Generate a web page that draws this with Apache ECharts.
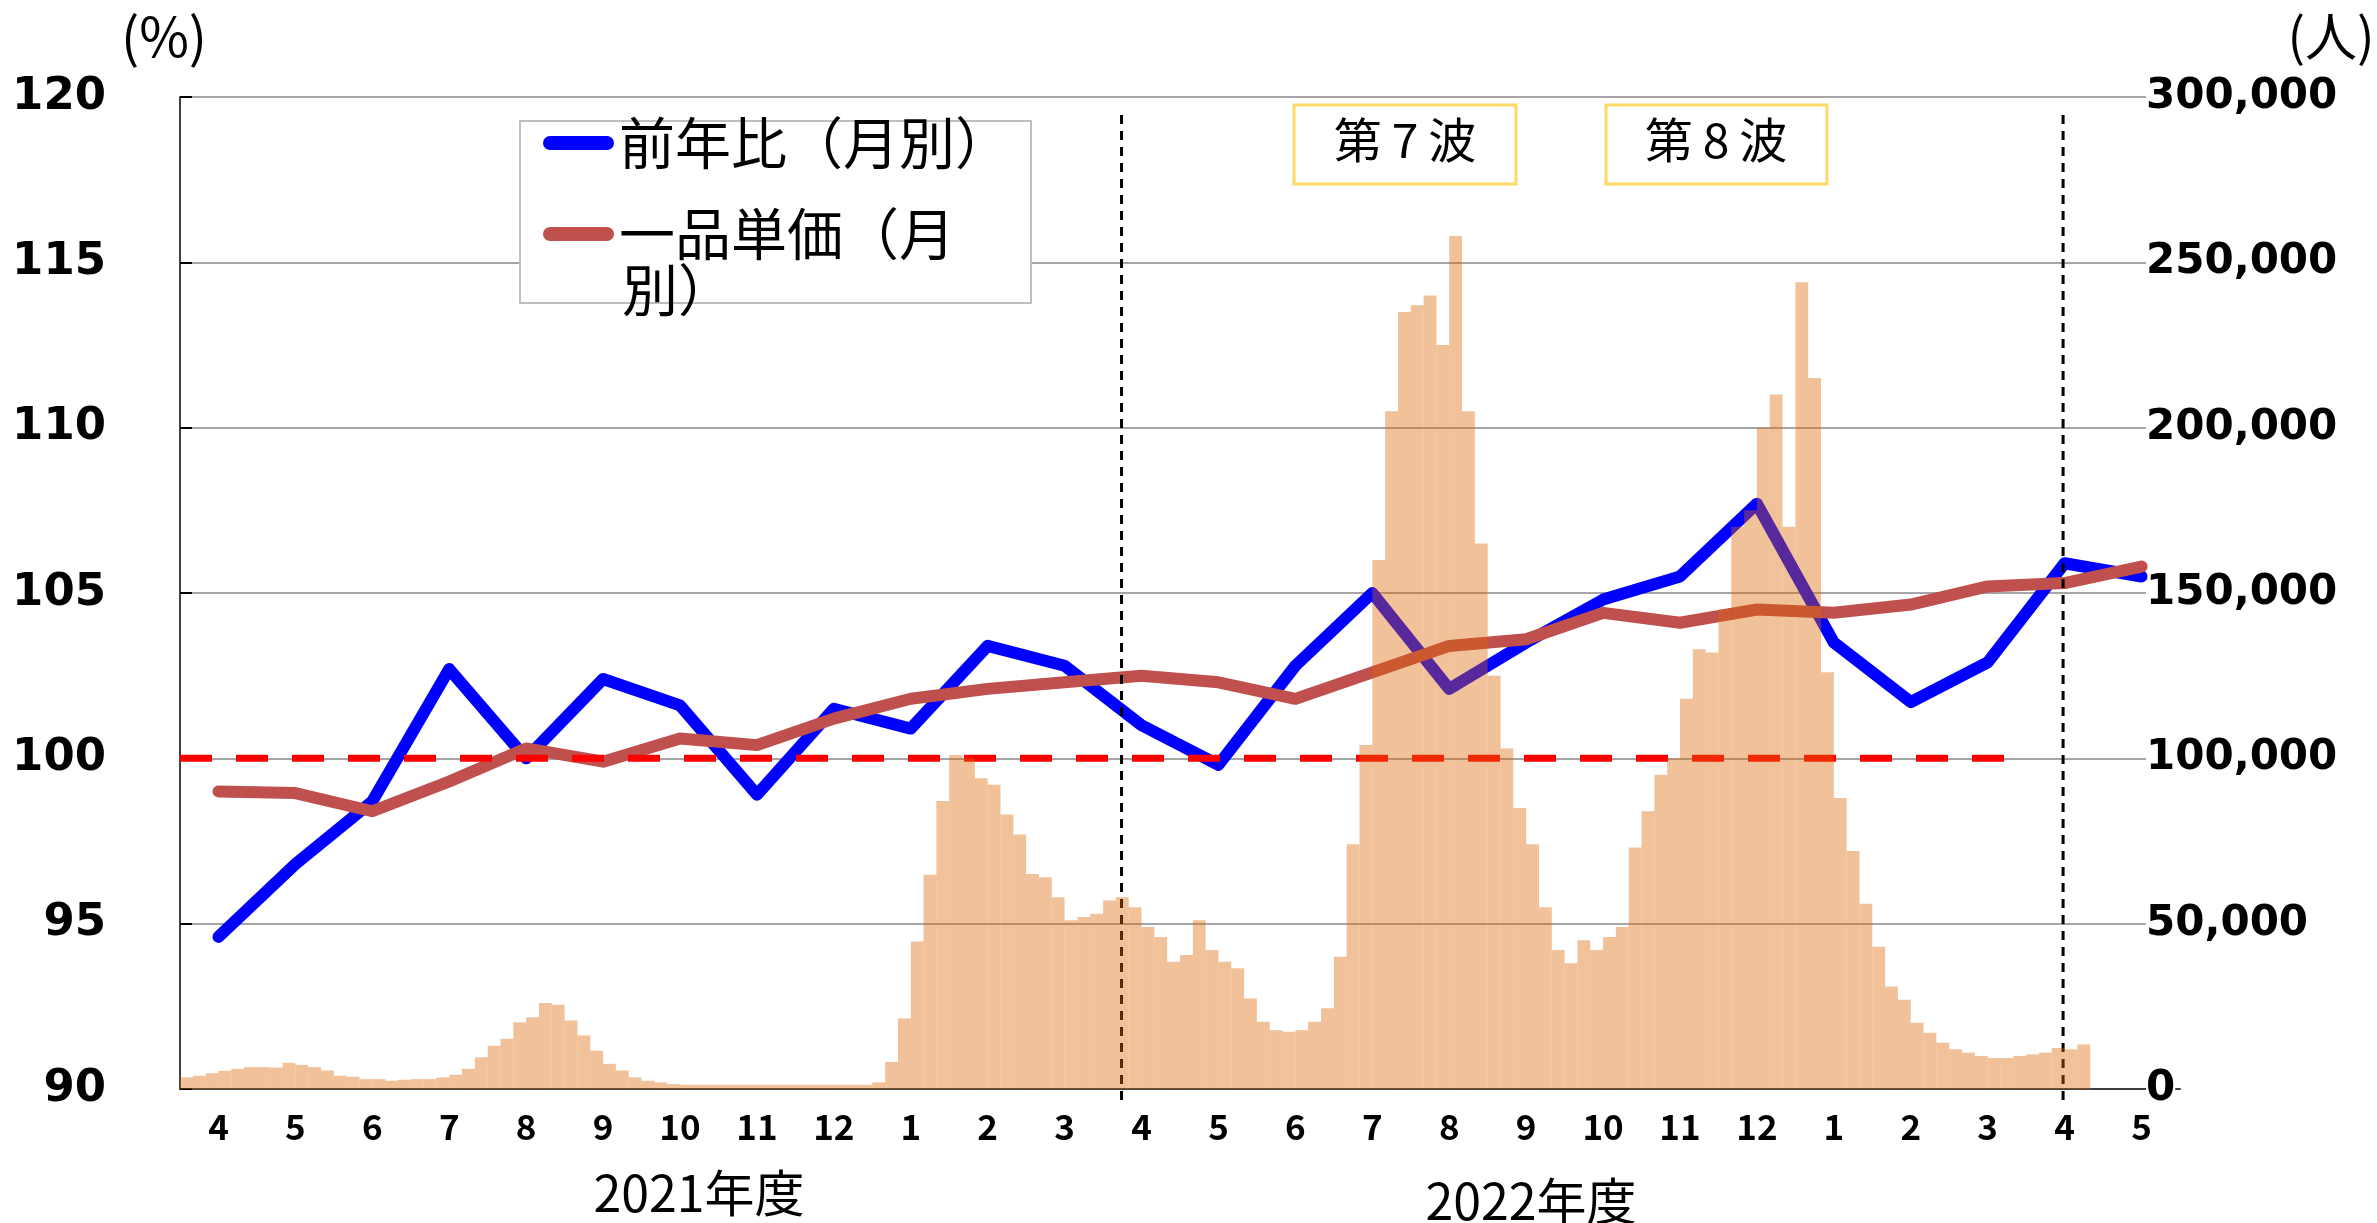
<!DOCTYPE html>
<html>
<head>
<meta charset="utf-8">
<script src="https://cdn.jsdelivr.net/npm/echarts@6/dist/echarts.min.js"></script>
<style>
  html, body { margin: 0; padding: 0; background: #fff; }
  #chart { width: 2377px; height: 1223px; }
</style>
</head>
<body>
<div id="chart"></div>
<script>
  // months, fiscal 2021 (Apr) .. May 2023
  const months = ['4', '5', '6', '7', '8', '9', '10', '11', '12', '1', '2', '3',
    '4', '5', '6', '7', '8', '9', '10', '11', '12', '1', '2', '3', '4', '5'];
  // 前年比（月別） %
  const yoy = [94.6, 96.8, 98.7, 102.7, 100.0, 102.4, 101.6, 98.9, 101.5, 100.9, 103.4, 102.8,
    101.0, 99.8, 102.8, 105.0, 102.1, 103.5, 104.8, 105.5, 107.7, 103.5, 101.7, 102.9, 105.9, 105.5];
  // 一品単価（月別） %
  const unitPrice = [99.0, 98.95, 98.4, 99.3, 100.3, 99.9, 100.6, 100.4, 101.2, 101.8, 102.1, 102.3,
    102.5, 102.3, 101.8, 102.6, 103.4, 103.6, 104.4, 104.1, 104.5, 104.4, 104.65, 105.2, 105.3, 105.8];
  const cases = [
    3500, 4000, 4800, 5500, 6100, 6600, 6600, 6500, 7900, 7300,
    6600, 5600, 4000, 3700, 3000, 3000, 2500, 2800, 3000, 3000,
    3500, 4300, 6100, 9600, 13100, 15200, 20200, 21700, 26000, 25500,
    20700, 16200, 11600, 7600, 5600, 3500, 2500, 2000, 1500, 1300,
    1300, 1300, 1300, 1300, 1300, 1300, 1300, 1300, 1300, 1300,
    1300, 1300, 1300, 1300, 2000, 8200, 21300, 44600, 64800, 87100,
    101000, 100000, 94000, 92000, 83000, 77000, 65000, 64000, 58000, 51000,
    52000, 53000, 57000, 58000, 55000, 49000, 46000, 38500, 40500, 51000,
    42000, 38500, 36500, 27400, 20300, 17800, 17300, 17800, 20300, 24400,
    40000, 74000, 104000, 160000, 205000, 235000, 237000, 240000, 225000, 258000,
    205000, 165000, 125000, 103000, 85000, 74000, 55000, 42000, 38000, 45000,
    42000, 46000, 49000, 73000, 84000, 95000, 100000, 118000, 133000, 132000,
    145000, 170000, 175000, 200000, 210000, 170000, 244000, 215000, 126000, 88000,
    72000, 56000, 43000, 31000, 27000, 20000, 17000, 14000, 12000, 11000,
    10000, 9400, 9400, 10000, 10500, 11000, 12400, 12000, 13500
  ];
  const stepsPerMonth = 6;
  // 100% reference line, in month units along the axis
  const refLine = [[0, 100], [23.73, 100]];
  // fiscal year dividers (month units) and their vertical extent (%)
  const dividers = [12.24, 24.48];
  const dividerSpan = [89.67, 119.64];

  const font = "'Noto Sans CJK JP', sans-serif";
  const steps = months.flatMap((m, i) =>
    Array.from({ length: stepsPerMonth }, (_, j) => i + '-' + j));

  const chart = echarts.init(document.getElementById('chart'));

  const dividerSeries = dividers.map(d => ({
    type: 'line',
    xAxisIndex: 2,
    yAxisIndex: 0,
    data: [[d, dividerSpan[0]], [d, dividerSpan[1]]],
    symbol: 'none',
    clip: false,
    silent: true,
    lineStyle: { color: '#000', width: 3, type: [9, 7] },
    z: 2
  }));

  const capsule = 'path://M7,0H64A7,7,0,0,1,64,14H7A7,7,0,0,1,7,0Z';
  const legendText = { fontSize: 56, fontFamily: font, color: '#000' };

  chart.setOption({
    animation: false,
    backgroundColor: '#fff',
    grid: { left: 180, right: 197, top: 97, bottom: 134 },
    legend: [
      {
        data: ['前年比（月別）'],
        left: 543,
        top: 115,
        padding: 0,
        icon: capsule,
        itemWidth: 71,
        itemHeight: 14,
        selectedMode: false,
        textStyle: legendText
      },
      {
        data: ['一品単価（月別）'],
        left: 543,
        top: 206,
        padding: 0,
        icon: capsule,
        itemWidth: 71,
        itemHeight: 14,
        selectedMode: false,
        formatter: () => '一品単価（月',
        textStyle: legendText
      }
    ],
    xAxis: [
      {
        type: 'category',
        data: months,
        boundaryGap: true,
        axisLine: { lineStyle: { color: '#404040', width: 2 } },
        axisTick: { inside: true, length: 8, interval: 0, lineStyle: { color: '#000', width: 2 } },
        axisLabel: {
          interval: 0, margin: 20, fontSize: 35, fontWeight: 'bold',
          fontFamily: font, color: '#000'
        },
        splitLine: { show: false }
      },
      {
        type: 'category',
        data: steps,
        show: false
      },
      {
        type: 'value',
        min: 0,
        max: months.length,
        show: false
      }
    ],
    yAxis: [
      {
        type: 'value',
        min: 90,
        max: 120,
        interval: 5,
        position: 'left',
        axisLine: { show: true, lineStyle: { color: '#404040', width: 2 } },
        axisTick: { show: true, inside: true, length: 12, lineStyle: { color: '#000', width: 2 } },
        axisLabel: {
          margin: 74, fontSize: 45, fontWeight: 'bold', padding: [10, 0, 0, 0],
          fontFamily: "'DejaVu Sans', sans-serif", color: '#000'
        },
        splitLine: { lineStyle: { color: '#A6A6A6', width: 2 } }
      },
      {
        type: 'value',
        min: 0,
        max: 300000,
        interval: 50000,
        position: 'right',
        axisLine: { show: false },
        axisTick: { show: false },
        splitLine: { show: false },
        axisLabel: {
          margin: -34, fontSize: 42, fontWeight: 'bold', padding: [20, 0, 0, 0],
          fontFamily: "'DejaVu Sans', sans-serif", color: '#000',
          backgroundColor: '#fff',
          formatter: v => v.toLocaleString('en-US')
        }
      }
    ],
    series: [
      {
        name: '前年比（月別）',
        type: 'line',
        data: yoy,
        symbol: 'none',
        itemStyle: { color: '#0000FF' },
        lineStyle: { color: '#0000FF', width: 12, cap: 'round', join: 'round' },
        z: 2
      },
      {
        name: '一品単価（月別）',
        type: 'line',
        data: unitPrice,
        symbol: 'none',
        itemStyle: { color: '#C0504D' },
        lineStyle: { color: '#C0504D', width: 12, cap: 'round', join: 'round' },
        z: 2
      },
      {
        name: '100%',
        type: 'line',
        xAxisIndex: 2,
        yAxisIndex: 0,
        data: refLine,
        symbol: 'none',
        silent: true,
        lineStyle: { color: '#FF0000', width: 7, type: [32, 24] },
        z: 2
      },
      ...dividerSeries,
      {
        name: '新規陽性者数',
        type: 'bar',
        xAxisIndex: 1,
        yAxisIndex: 1,
        data: cases,
        barCategoryGap: '0%',
        barGap: '0%',
        silent: true,
        itemStyle: { color: 'rgba(220, 103, 3, 0.4)' },
        z: 3
      }
    ],
    graphic: [
      {
        type: 'rect',
        shape: { x: 520, y: 121, width: 511, height: 182 },
        style: { fill: '#fff', stroke: '#BFBFBF', lineWidth: 2 },
        z: 1
      },
      {
        type: 'text',
        style: { text: '別）', x: 622, y: 290, fontSize: 56, fontFamily: font, fill: '#000', verticalAlign: 'middle' },
        z: 5
      },
      {
        type: 'text',
        style: { text: '(%)', x: 164, y: 36, fontSize: 54, fontFamily: font, fill: '#000', align: 'center', verticalAlign: 'middle' }
      },
      {
        type: 'text',
        style: { text: '(人)', x: 2331, y: 36, fontSize: 52, fontFamily: font, fill: '#000', align: 'center', verticalAlign: 'middle' }
      },
      {
        type: 'text',
        style: { text: '2021年度', x: 699, y: 1193, fontSize: 50, fontFamily: font, fill: '#000', align: 'center', verticalAlign: 'middle' }
      },
      {
        type: 'text',
        style: { text: '2022年度', x: 1531, y: 1201, fontSize: 50, fontFamily: font, fill: '#000', align: 'center', verticalAlign: 'middle' }
      },
      {
        type: 'rect',
        shape: { x: 1294, y: 105, width: 222, height: 79 },
        style: { fill: '#fff', stroke: '#FFD966', lineWidth: 3 },
        z: 1
      },
      {
        type: 'text',
        style: {
          text: '{a|第}{b|7}{a|波}', x: 1405, y: 140, align: 'center', verticalAlign: 'middle',
          rich: { a: { fontSize: 48, fontFamily: font, color: '#000' }, b: { fontSize: 48, fontFamily: font, color: '#000', padding: [0, 10] } }
        },
        z: 5
      },
      {
        type: 'rect',
        shape: { x: 1606, y: 105, width: 221, height: 79 },
        style: { fill: '#fff', stroke: '#FFD966', lineWidth: 3 },
        z: 1
      },
      {
        type: 'text',
        style: {
          text: '{a|第}{b|8}{a|波}', x: 1716, y: 140, align: 'center', verticalAlign: 'middle',
          rich: { a: { fontSize: 48, fontFamily: font, color: '#000' }, b: { fontSize: 48, fontFamily: font, color: '#000', padding: [0, 10] } }
        },
        z: 5
      }
    ]
  });
</script>
</body>
</html>
